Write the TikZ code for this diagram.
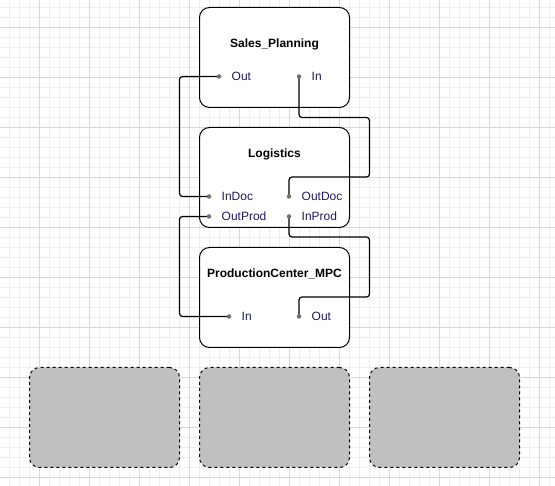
\documentclass[tikz,border=0pt]{standalone}
\usepackage{fontspec}
\setmainfont{Liberation Sans}
\definecolor{gridminor}{RGB}{238,238,238}
\definecolor{gridmajor}{RGB}{216,216,216}
\definecolor{portdot}{RGB}{112,112,112}
\definecolor{porttext}{RGB}{28,28,92}
\definecolor{phfill}{RGB}{192,192,192}
\begin{document}
\begin{tikzpicture}[x=1pt,y=-1pt,
  block/.style={draw=black,line width=1pt,rounded corners=10pt,fill=white,minimum width=150pt,minimum height=100pt,inner sep=0pt},
  holder/.style={draw=black,line width=1pt,dashed,rounded corners=10pt,fill=phfill,minimum width=150pt,minimum height=100pt,inner sep=0pt},
  title/.style={font=\bfseries\fontsize{12pt}{14pt}\selectfont,inner sep=0pt},
  plabel/.style={font=\fontsize{12pt}{14pt}\selectfont,text=porttext,anchor=west,inner sep=0pt},
  pdot/.style={circle,fill=portdot,inner sep=0pt,minimum size=4.5pt},
  wire/.style={draw=black,line width=1.2pt,rounded corners=3pt}]
\useasboundingbox (0,0) rectangle (555,486);
\fill[white] (0,0) rectangle (555,486);
% grid
\foreach \x in {9.5,19.5,...,555} \draw[gridminor,line width=0.8pt] (\x,0) -- (\x,486);
\foreach \y in {7.5,17.5,...,486} \draw[gridminor,line width=0.8pt] (0,\y) -- (555,\y);
\foreach \x in {39.5,89.5,...,555} \draw[gridmajor,line width=0.8pt] (\x,0) -- (\x,486);
\foreach \y in {27.5,77.5,...,486} \draw[gridmajor,line width=0.8pt] (0,\y) -- (555,\y);
% blocks
\node[block] (sp) at (274.5,57.5) {};
\node[block] (lg) at (274.5,177.5) {};
\node[block] (pc) at (274.5,297.5) {};
\node[holder] (h1) at (104.5,417.5) {};
\node[holder] (h2) at (274.5,417.5) {};
\node[holder] (h3) at (444.5,417.5) {};
% titles
\node[title] (tsp) at (274.5,44) {Sales\_Planning};
\node[title] (tlg) at (274.5,154) {Logistics};
\node[title] (tpc) at (274.5,274) {ProductionCenter\_MPC};
% port coordinates
\coordinate (so) at (219,76.5);
\coordinate (si) at (299,76.5);
\coordinate (lid) at (209,196.5);
\coordinate (lod) at (289,196.5);
\coordinate (lop) at (209,216.5);
\coordinate (lip) at (289,216.5);
\coordinate (pi) at (229,316.5);
\coordinate (po) at (299,316.5);
\coordinate (lx) at (179.5,0);
\coordinate (rx) at (369.5,0);
\coordinate (ya) at (0,117.5);
\coordinate (yb) at (0,177);
\coordinate (yc) at (0,237);
\coordinate (yd) at (0,297);
% wires
\draw[wire] (so) -- (so -| lx) -- (lid -| lx) -- (lid);
\draw[wire] (si) -- (si |- ya) -- (rx |- ya) -- (rx |- yb) -- (lod |- yb) -- (lod);
\draw[wire] (lop) -- (lop -| lx) -- (pi -| lx) -- (pi);
\draw[wire] (lip) -- (lip |- yc) -- (rx |- yc) -- (rx |- yd) -- (po |- yd) -- (po);
% port dots and labels
\foreach \p in {so,si,lid,lod,lop,lip,pi,po} \node[pdot] (d\p) at (\p) {};
\node[plabel] (tso) at ([xshift=12.5pt]so) {Out};
\node[plabel] (tsi) at ([xshift=12.5pt]si) {In};
\node[plabel] (tlid) at ([xshift=12.5pt]lid) {InDoc};
\node[plabel] (tlod) at ([xshift=12.5pt]lod) {OutDoc};
\node[plabel] (tlop) at ([xshift=12.5pt]lop) {OutProd};
\node[plabel] (tlip) at ([xshift=12.5pt]lip) {InProd};
\node[plabel] (tpi) at ([xshift=12.5pt]pi) {In};
\node[plabel] (tpo) at ([xshift=12.5pt]po) {Out};
\end{tikzpicture}
\end{document}
